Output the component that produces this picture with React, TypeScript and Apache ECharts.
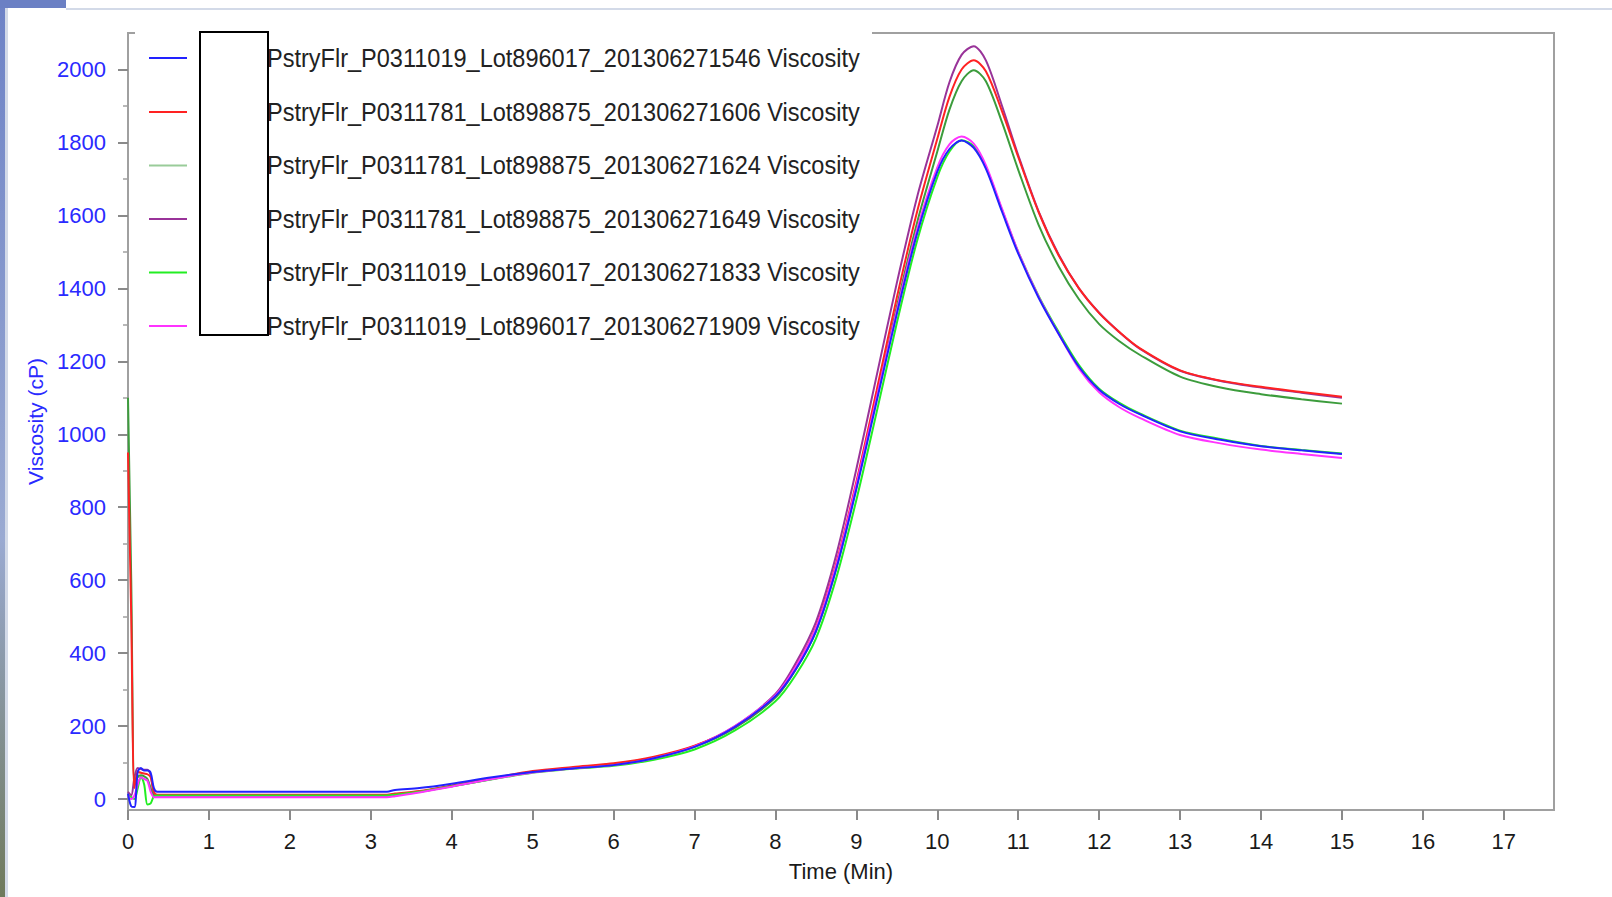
import React, { useEffect, useRef } from "react";
import * as echarts from "echarts";

// Time (min) sampling points shared by all runs
const TIME = [
  0, 0.04, 0.08, 0.12, 0.16, 0.2, 0.24, 0.28, 0.32, 0.36,
  0.5, 1, 1.5, 2, 2.5, 3, 3.2,
  3.3, 3.6, 4, 4.5, 5, 5.5, 6, 6.5, 7, 7.5, 8,
  8.25, 8.5, 8.75, 9, 9.25, 9.5, 9.75,
  10, 10.15, 10.3, 10.45, 10.6, 10.8, 11, 11.25, 11.5, 11.75, 12, 12.25, 12.5, 13, 13.5, 14, 14.5, 15,
];

const RUN_1546 = [
  15, -20, -22, 75, 85, 78, 78, 72, 30, 20,
  20, 20, 20, 20, 20, 20, 20,
  25, 30, 42, 60, 74, 84, 93, 112, 143, 198, 282,
  355, 460, 630, 850, 1090, 1330, 1550,
  1720, 1782, 1805, 1785, 1728, 1610, 1495, 1375, 1275, 1185, 1122, 1083, 1055, 1008, 985, 967, 956, 946,
];
const RUN_1606 = [
  950, 500, 30, 75, 72, 70, 68, 60, 20, 12,
  12, 12, 12, 12, 12, 12, 12,
  15, 22, 37, 57, 77, 88, 98, 116, 146, 198, 283,
  362, 470, 645, 870, 1120, 1375, 1610,
  1810, 1925, 2000, 2025, 1995, 1885, 1760, 1610, 1490, 1400, 1332, 1280, 1236, 1175, 1147, 1130, 1116, 1103,
];
const RUN_1624 = [
  1100, 600, 40, 60, 65, 62, 55, 30, 10, 10,
  10, 10, 10, 10, 10, 10, 10,
  12, 20, 35, 55, 74, 85, 95, 113, 143, 195, 278,
  355, 460, 632, 855, 1100, 1350, 1580,
  1775, 1890, 1968, 1998, 1968, 1855, 1725, 1575, 1460, 1370, 1302, 1255, 1218, 1158, 1128, 1110, 1096, 1084,
];
const RUN_1649 = [
  20, 10, 60, 85, 82, 80, 80, 65, 15, 10,
  10, 10, 10, 10, 10, 10, 10,
  12, 20, 36, 56, 75, 86, 96, 114, 145, 200, 288,
  372, 485, 668, 905, 1160, 1415, 1650,
  1845, 1965, 2040, 2064, 2025, 1900, 1765, 1612, 1492, 1400, 1333, 1280, 1235, 1174, 1146, 1128, 1114, 1100,
];
const RUN_1833 = [
  10, 5, 0, 30, 62, 40, -15, -12, 8, 10,
  10, 10, 10, 10, 10, 10, 10,
  12, 20, 35, 54, 72, 83, 91, 108, 136, 188, 268,
  340, 440, 605, 820, 1060, 1305, 1530,
  1705, 1775, 1806, 1790, 1733, 1615, 1500, 1380, 1280, 1190, 1125, 1086, 1057, 1010, 987, 968, 957, 947,
];
const RUN_1909 = [
  10, 0, 10, 40, 60, 55, 50, 20, 5, 5,
  5, 5, 5, 5, 5, 5, 5,
  8, 18, 34, 55, 73, 84, 93, 112, 144, 200, 285,
  362, 468, 640, 862, 1100, 1340, 1562,
  1732, 1795, 1816, 1797, 1738, 1618, 1500, 1378, 1275, 1180, 1115, 1074, 1045, 998, 975, 958, 946, 935,
];

const SERIES_NAMES = [
  "PstryFlr_P0311019_Lot896017_201306271546 Viscosity",
  "PstryFlr_P0311781_Lot898875_201306271606 Viscosity",
  "PstryFlr_P0311781_Lot898875_201306271624 Viscosity",
  "PstryFlr_P0311781_Lot898875_201306271649 Viscosity",
  "PstryFlr_P0311019_Lot896017_201306271833 Viscosity",
  "PstryFlr_P0311019_Lot896017_201306271909 Viscosity",
];
const SERIES_VALUES = [RUN_1546, RUN_1606, RUN_1624, RUN_1649, RUN_1833, RUN_1909];
const SERIES_COLORS = ["#2222ff", "#ff2222", "#3c9c3c", "#993399", "#22ee22", "#ff33ff"];
const LEGEND_COLORS = ["#2222ff", "#ff2222", "#99cc99", "#993399", "#22ee22", "#ff33ff"];
const SERIES_Z = [8, 5, 4, 3, 6, 7];

const Y_TICKS = [0, 200, 400, 600, 800, 1000, 1200, 1400, 1600, 1800, 2000];
const Y_MINOR_TICKS = [100, 300, 500, 700, 900, 1100, 1300, 1500, 1700, 1900];
const X_TICKS = [0, 1, 2, 3, 4, 5, 6, 7, 8, 9, 10, 11, 12, 13, 14, 15, 16, 17];

const FONT = "'Liberation Sans', Arial, sans-serif";
const GRID = { left: 128, top: 33, width: 1426, height: 777 };
const LEGEND_ROWS_Y = [58, 112, 165.5, 219, 272.5, 326];

export default function App() {
  const ref = useRef<HTMLDivElement>(null);

  useEffect(() => {
    if (!ref.current) return;
    const chart = echarts.init(ref.current, undefined, { renderer: "svg" });

    const series = SERIES_NAMES.map((name, i) => ({
      name,
      type: "line",
      data: TIME.map((t, k) => [t, SERIES_VALUES[i][k]]),
      showSymbol: false,
      smooth: 0.3,
      z: SERIES_Z[i],
      lineStyle: { color: SERIES_COLORS[i], width: 2 },
      itemStyle: { color: SERIES_COLORS[i] },
      xAxisIndex: 0,
      yAxisIndex: 0,
    }));

    const legendEls: any[] = [];
    SERIES_NAMES.forEach((name, i) => {
      const y = LEGEND_ROWS_Y[i];
      legendEls.push({
        type: "line",
        shape: { x1: 149, y1: y, x2: 187, y2: y },
        style: { stroke: LEGEND_COLORS[i], lineWidth: 2 },
        z: 100,
      });
      legendEls.push({
        type: "text",
        x: 267,
        y,
        scaleX: 0.905,
        style: {
          text: name,
          fill: "#222222",
          font: `26px ${FONT}`,
          textVerticalAlign: "middle",
          textAlign: "left",
        },
        z: 100,
      });
    });

    const option: any = {
      animation: false,
      backgroundColor: "#ffffff",
      grid: {
        ...GRID,
        containLabel: false,
        outerBoundsMode: "none",
        show: true,
        borderColor: "#a0a0a0",
        borderWidth: 2,
        backgroundColor: "transparent",
      },
      xAxis: {
        type: "value",
        min: 0,
        max: 17.62,
        name: "Time (Min)",
        nameLocation: "middle",
        nameGap: 50,
        nameTextStyle: { color: "#1a1a1a", fontSize: 22, fontFamily: FONT },
        axisLine: { show: true, onZero: false, lineStyle: { color: "#a0a0a0", width: 2 } },
        axisTick: { show: true, customValues: X_TICKS, length: 10, lineStyle: { color: "#8a8a8a", width: 2 } },
        axisLabel: {
          customValues: X_TICKS,
          color: "#1a1a1a",
          fontSize: 22,
          fontFamily: FONT,
          margin: 20,
          formatter: (v: number) => String(v),
        },
        splitLine: { show: false },
      },
      yAxis: [
        {
          type: "value",
          min: -30,
          max: 2100,
          position: "left",
          name: "Viscosity (cP)",
          nameLocation: "middle",
          nameGap: 78,
          nameRotate: 90,
          nameTextStyle: { color: "#2a2aff", fontSize: 21, fontFamily: FONT },
          axisLine: { show: true, onZero: false, lineStyle: { color: "#a0a0a0", width: 2 } },
          axisTick: { show: true, customValues: Y_TICKS, length: 10, lineStyle: { color: "#8a8a8a", width: 2 } },
          axisLabel: {
            customValues: Y_TICKS,
            color: "#2a2aff",
            fontSize: 22,
            fontFamily: FONT,
            margin: 22,
            formatter: (v: number) => String(v),
          },
          splitLine: { show: false },
        },
        {
          type: "value",
          min: -30,
          max: 2100,
          position: "left",
          axisLine: { show: false, onZero: false },
          axisTick: { show: true, customValues: Y_MINOR_TICKS, length: 5, lineStyle: { color: "#a0a0a0", width: 1.5 } },
          axisLabel: { show: false },
          splitLine: { show: false },
        },
      ],
      series,
      graphic: [
        // window-frame remnants of the screenshot
        {
          type: "rect",
          shape: { x: 0, y: 0, width: 5, height: 897 },
          style: {
            fill: new echarts.graphic.LinearGradient(0, 0, 0, 1, [
              { offset: 0, color: "#6d82c6" },
              { offset: 0.6, color: "#9aaad2" },
              { offset: 1, color: "#6f7a5c" },
            ]),
          },
          z: 100,
        },
        { type: "rect", shape: { x: 5, y: 8, width: 3, height: 889 }, style: { fill: "#d3dae8" }, z: 100 },
        { type: "rect", shape: { x: 0, y: 0, width: 66, height: 8 }, style: { fill: "#6b80c4" }, z: 100 },
        { type: "rect", shape: { x: 66, y: 8, width: 1546, height: 2 }, style: { fill: "#d3dae8" }, z: 100 },
        // legend background hiding the frame's top edge
        { type: "rect", shape: { x: 135, y: 26, width: 737, height: 14 }, style: { fill: "#ffffff" }, z: 99 },
        ...legendEls,
        {
          type: "rect",
          shape: { x: 200, y: 32, width: 68, height: 303 },
          style: { fill: "#ffffff", stroke: "#000000", lineWidth: 2 },
          z: 110,
        },
      ],
    };

    chart.setOption(option);
    return () => chart.dispose();
  }, []);

  return (
    <div
      ref={ref}
      style={{ position: "absolute", left: 0, top: 0, width: 1612, height: 897, background: "#fff" }}
    />
  );
}
